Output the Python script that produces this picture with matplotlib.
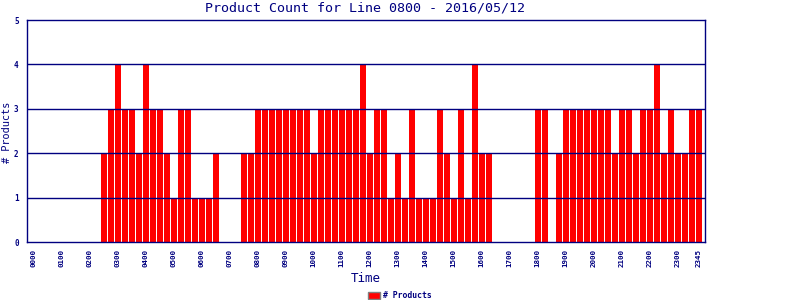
import matplotlib
matplotlib.use("Agg")
import matplotlib.pyplot as plt
from matplotlib.patches import Patch

title = "Product Count for Line 0800 - 2016/05/12"
slot_times = ["%02d%02d" % (h, m) for h in range(24) for m in (0, 15, 30, 45)]
counts = [0, 0, 0, 0, 0, 0, 0, 0, 0, 0,
          2, 3, 4, 3, 3, 2, 4, 3, 3, 2,
          1, 3, 3, 1, 1, 1, 2, 0, 0, 0,
          2, 2, 3, 3, 3, 3, 3, 3, 3, 3,
          2, 3, 3, 3, 3, 3, 3, 4, 2, 3,
          3, 1, 2, 1, 3, 1, 1, 1, 3, 2,
          1, 3, 1, 4, 2, 2, 0, 0, 0, 0,
          0, 0, 3, 3, 0, 2, 3, 3, 3, 3,
          3, 3, 3, 2, 3, 3, 2, 3, 3, 4,
          2, 3, 2, 2, 3, 3]
tick_labels = ["%02d00" % h for h in range(24)] + ["2345"]
tick_pos = [slot_times.index(t) for t in tick_labels]
y_ticks = [0, 1, 2, 3, 4, 5]

navy = "#000080"
fig = plt.figure(figsize=(8, 3), dpi=100)
ax = fig.add_axes([27/800, 58/300, 678/800, 222/300])
x = list(range(len(counts)))
ax.bar(x, counts, width=0.86, color="#ff0000", zorder=2)
ax.set_xlim(-0.96, 95.9)
ax.set_ylim(0, 5)
ax.set_yticks(y_ticks)
ax.set_yticklabels([str(v) for v in y_ticks], fontsize=5.5, color=navy,
                   family="DejaVu Sans Mono", fontweight="bold")
ax.set_xticks(tick_pos)
ax.set_xticklabels(tick_labels, rotation=90, fontsize=5.4, color=navy,
                   family="DejaVu Sans Mono", fontweight="bold")
ax.tick_params(axis="both", length=0)
ax.tick_params(axis="x", pad=5)
ax.tick_params(axis="y", pad=6)
for v in [1, 2, 3, 4]:
    ax.axhline(v, color=navy, lw=1.0, zorder=3)
for s in ax.spines.values():
    s.set_color(navy)
    s.set_linewidth(1.0)
    s.set_zorder(4)

fig.text(365/800, 1 - 8/300, title, ha="center", va="center", fontsize=9.6,
         color=navy, family="DejaVu Sans Mono")
fig.text(7/800, 1 - 132/300, "# Products", rotation=90, ha="center", va="center",
         fontsize=7.4, color=navy, family="DejaVu Sans Mono")
fig.text(366/800, 1 - 278/300, "Time", ha="center", va="center", fontsize=9,
         color=navy, family="DejaVu Sans Mono")
leg = fig.legend(handles=[Patch(facecolor="#ff0000", edgecolor="#808080", label="# Products")],
                 loc="center", bbox_to_anchor=(400/800, 1 - 296/300), frameon=False,
                 prop={"family": "DejaVu Sans Mono", "size": 5.9, "weight": "bold"},
                 handlelength=1.4, handleheight=0.9, handletextpad=0.4, borderpad=0)
for t in leg.get_texts():
    t.set_color(navy)
fig.savefig("out.png", dpi=100)
